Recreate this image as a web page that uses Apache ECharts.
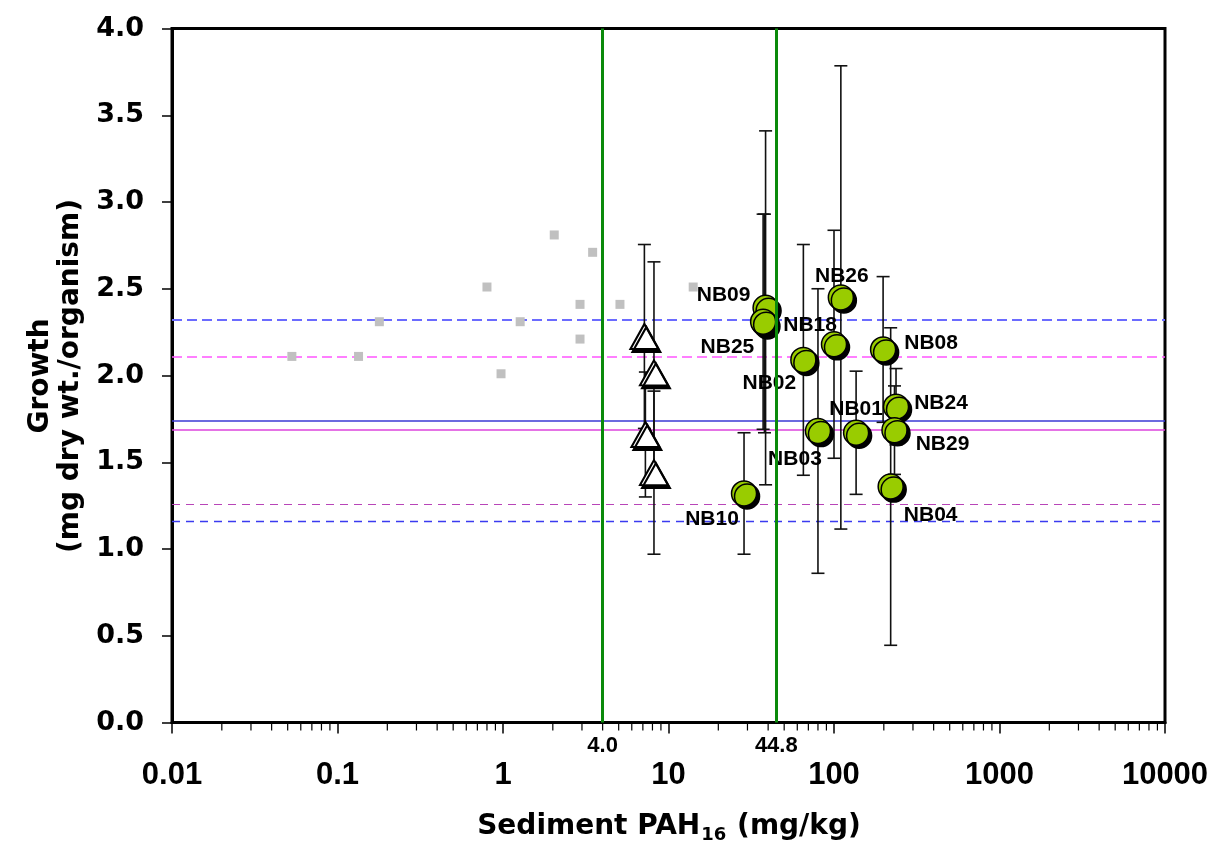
<!DOCTYPE html>
<html>
<head>
<meta charset="utf-8">
<title>Growth vs Sediment PAH16</title>
<script src="https://cdn.jsdelivr.net/npm/echarts@6/dist/echarts.min.js"></script>
<style>
  html, body { margin: 0; padding: 0; background: #fff; }
  #chart { width: 1219px; height: 850px; }
</style>
</head>
<body>
<div id="chart"></div>
<script>
// Station results: sediment PAH16 (mg/kg), mean growth and its error (± mg dry wt./organism)
const siteNames = ['NB10', 'NB09', 'NB25', 'NB18', 'NB02', 'NB26', '', 'NB03', 'NB01', 'NB08', 'NB24', 'NB29', 'NB04'];
const siteX     = [28.6, 38.6, 38.0, 37.3, 65.3, 110, 100, 80, 136, 198, 237, 232, 220];
const siteY     = [1.32, 2.39, 2.30, 2.31, 2.09, 2.45, 2.18, 1.68, 1.67, 2.15, 1.82, 1.685, 1.36];
const siteErr   = [0.35, 1.02, 0.63, 0.62, 0.665, 1.335, 0.657, 0.82, 0.355, 0.42, 0.22, 0.255, 0.915];

// Reference-site samples (open triangles)
const refSiteX   = [7.15, 8.17, 7.25, 8.17];
const refSiteY   = [2.225, 2.015, 1.66, 1.44];
const refSiteErr = [0.53, 0.64, 0.36, 0.47];

// Background samples (grey squares)
const bgX = [0.053, 0.134, 0.179, 0.80, 0.973, 1.27, 2.04, 2.92, 2.92, 3.48, 5.09, 14.1];
const bgY = [2.11, 2.11, 2.31, 2.51, 2.01, 2.31, 2.81, 2.41, 2.21, 2.71, 2.41, 2.51];

// Horizontal reference levels (growth) and vertical PAH thresholds
const hLineValues = [2.32, 2.11, 1.735, 1.69, 1.265, 1.155];
const vLineValues = [4.0, 44.8];
const vLineLabels = ['4.0', '44.8'];

// Axis tick labels
const xTickLabels = ['0.01', '0.1', '1', '10', '100', '1000', '10000'];
const yTickLabels = ['0.0', '0.5', '1.0', '1.5', '2.0', '2.5', '3.0', '3.5', '4.0'];

// ---- presentation ----
const hLineStyles = [
  { color: '#6b6bff', width: 2,   type: [10, 5] },
  { color: '#ff55ff', width: 1.5, type: [10, 5] },
  { color: '#3a3ad4', width: 1.5, type: 'solid' },
  { color: '#dd44dd', width: 1.5, type: 'solid' },
  { color: '#b845b8', width: 1.1, type: [8, 6] },
  { color: '#3b3bf0', width: 1.3, type: [8, 6] }
];
const labelOffsets = {
  NB10: [-32, 26], NB09: [-42, -13], NB25: [-37, 24], NB18: [47, 3],
  NB02: [-34, 23], NB26: [1, -21], NB03: [-23, 28], NB01: [0, -24],
  NB08: [48, -6], NB24: [45, -4], NB29: [48, 14], NB04: [40, 29]
};

// minor ticks of the log axis (2..9 within each decade)
const minorTicks = [];
for (let d = -2; d < 4; d++) {
  for (let k = 2; k <= 9; k++) minorTicks.push([k * Math.pow(10, d), 0]);
}

const errData = [];
siteX.forEach((x, i) => errData.push([x, siteY[i], siteErr[i]]));
refSiteX.forEach((x, i) => errData.push([x, refSiteY[i], refSiteErr[i]]));

const chart = echarts.init(document.getElementById('chart'), null, { renderer: 'canvas' });

const option = {
  backgroundColor: '#fff',
  animation: false,
  grid: {
    left: 172, right: 54, top: 28.5, bottom: 127.5,
    show: true, borderColor: '#000', borderWidth: 3, backgroundColor: '#fff'
  },
  xAxis: {
    type: 'log', logBase: 10, min: 0.01, max: 10000, splitNumber: 6,
    axisLine: { show: true, lineStyle: { color: '#000', width: 3 } },
    axisTick: { show: true, length: 11, lineStyle: { color: '#000', width: 1.5 } },
    axisLabel: {
      margin: 37, color: '#000', fontSize: 31, fontWeight: 'bold',
      fontFamily: '"Liberation Sans", Arial, sans-serif',
      formatter: (v, i) => xTickLabels[i] !== undefined ? xTickLabels[i] : ''
    },
    splitLine: { show: false }
  },
  yAxis: {
    type: 'value', min: 0, max: 4, interval: 0.5,
    axisLine: { show: true, lineStyle: { color: '#000', width: 3 } },
    axisTick: { show: true, length: 10, lineStyle: { color: '#000', width: 1.5 } },
    axisLabel: {
      margin: 28, color: '#000', fontSize: 27, fontWeight: 'bold',
      fontFamily: '"DejaVu Sans", sans-serif',
      formatter: (v, i) => yTickLabels[i]
    },
    splitLine: { show: false }
  },
  graphic: [
    {
      type: 'text', x: 41, y: 376, rotation: Math.PI / 2, silent: true,
      style: { text: 'Growth', fill: '#000', font: 'bold 28px "DejaVu Sans"', textAlign: 'center', textVerticalAlign: 'middle' }
    },
    {
      type: 'text', x: 71, y: 376, rotation: Math.PI / 2, silent: true,
      style: { text: '(mg dry wt./organism)', fill: '#000', font: 'bold 28px "DejaVu Sans"', textAlign: 'center', textVerticalAlign: 'middle' }
    },
    {
      type: 'text', x: 669, y: 827, silent: true,
      style: {
        text: '{a|Sediment PAH}{s|16}{a| (mg/kg)}',
        textAlign: 'center', textVerticalAlign: 'middle',
        rich: {
          a: { fontSize: 28, fontWeight: 'bold', fontFamily: '"DejaVu Sans"', fill: '#000', lineHeight: 34 },
          s: { fontSize: 18, fontWeight: 'bold', fontFamily: '"DejaVu Sans"', fill: '#000', lineHeight: 34, verticalAlign: 'bottom', padding: [0, 1, 0, 1] }
        }
      }
    }
  ],
  series: [
    {
      // horizontal growth reference levels
      type: 'scatter', data: [], silent: true, z: 1,
      markLine: {
        silent: true, symbol: 'none', z: 1, animation: false,
        label: { show: false },
        data: hLineValues.map((v, i) => ({ yAxis: v, lineStyle: hLineStyles[i] }))
      }
    },
    {
      // minor ticks on the log axis
      type: 'custom', data: minorTicks, silent: true, z: 3, clip: false,
      renderItem: (params, api) => {
        const p = api.coord([api.value(0), 0]);
        return {
          type: 'line',
          shape: { x1: p[0], y1: p[1] + 1, x2: p[0], y2: p[1] + 8 },
          style: { stroke: '#000', lineWidth: 1.2 }
        };
      }
    },
    {
      // error bars
      type: 'custom', data: errData, silent: true, z: 2,
      renderItem: (params, api) => {
        const x = api.value(0), y = api.value(1), e = api.value(2);
        const top = api.coord([x, y + e]);
        const bot = api.coord([x, y - e]);
        const cw = 6.5;
        const st = { stroke: '#111', lineWidth: 1.6 };
        return {
          type: 'group',
          children: [
            { type: 'line', shape: { x1: top[0], y1: top[1], x2: bot[0], y2: bot[1] }, style: st },
            { type: 'line', shape: { x1: top[0] - cw, y1: top[1], x2: top[0] + cw, y2: top[1] }, style: st },
            { type: 'line', shape: { x1: bot[0] - cw, y1: bot[1], x2: bot[0] + cw, y2: bot[1] }, style: st }
          ]
        };
      }
    },
    {
      type: 'scatter', z: 3, silent: true,
      symbol: 'rect', symbolSize: 9,
      itemStyle: { color: '#c0c0c0', opacity: 1 },
      data: bgX.map((x, i) => [x, bgY[i]])
    },
    {
      type: 'scatter', z: 4, silent: true,
      symbol: 'triangle', symbolSize: [28, 25],
      itemStyle: {
        color: '#fff', borderColor: '#000', borderWidth: 2, opacity: 1,
        shadowColor: '#000', shadowBlur: 0, shadowOffsetX: 2, shadowOffsetY: 3
      },
      data: refSiteX.map((x, i) => [x, refSiteY[i]])
    },
    {
      type: 'scatter', z: 5, silent: true,
      symbol: 'circle', symbolSize: 25,
      itemStyle: {
        color: '#99cc00', borderColor: '#000', borderWidth: 1.5, opacity: 1,
        shadowColor: '#000', shadowBlur: 0, shadowOffsetX: 3, shadowOffsetY: 3
      },
      label: {
        show: true, position: 'inside', color: '#000',
        fontSize: 21, fontWeight: 'bold', fontFamily: '"Liberation Sans", Arial, sans-serif',
        formatter: p => p.name
      },
      data: siteX.map((x, i) => ({
        name: siteNames[i],
        value: [x, siteY[i]],
        label: { offset: labelOffsets[siteNames[i]] || [0, 0] }
      }))
    },
    {
      // PAH threshold lines
      type: 'scatter', data: [], silent: true, z: 6,
      markLine: {
        silent: true, symbol: 'none', z: 6, animation: false,
        lineStyle: { color: '#0a8a0a', width: 3, type: 'solid' },
        label: {
          show: true, position: 'start', distance: 12, color: '#000',
          fontSize: 22, fontWeight: 'bold', fontFamily: '"Liberation Sans", Arial, sans-serif',
          formatter: p => vLineLabels[vLineValues.indexOf(p.value)]
        },
        data: vLineValues.map(v => ({ xAxis: v }))
      }
    }
  ]
};

chart.setOption(option);
</script>
</body>
</html>
